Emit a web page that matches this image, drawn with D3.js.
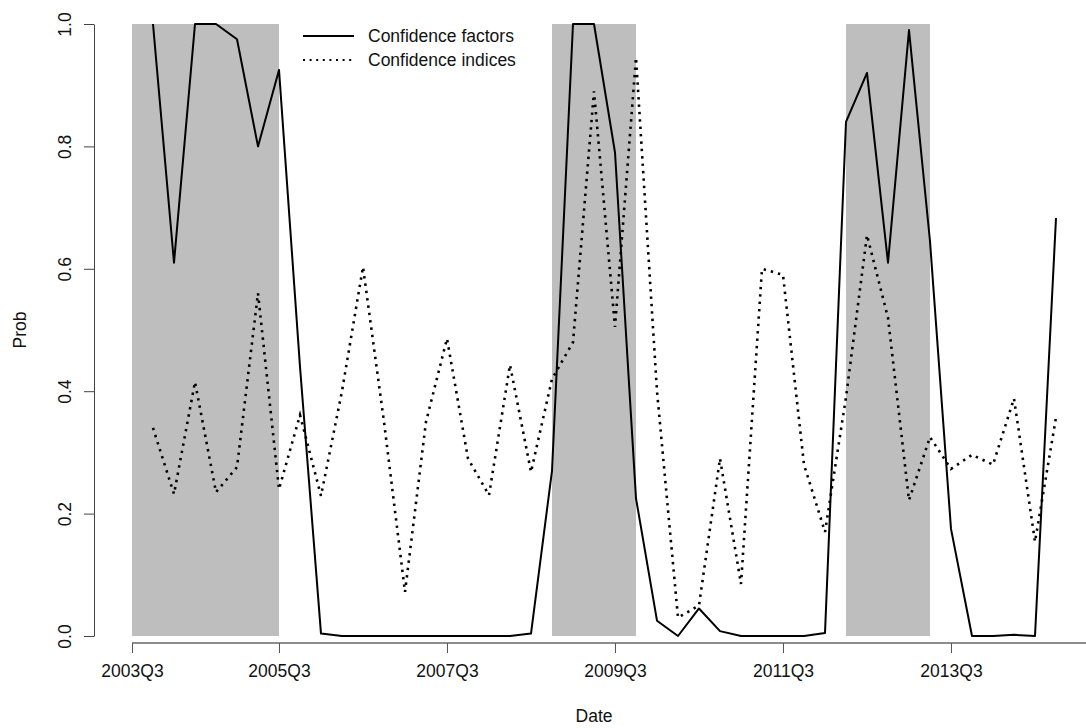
<!DOCTYPE html>
<html>
<head>
<meta charset="utf-8">
<script src="https://cdn.jsdelivr.net/npm/d3@7"></script>
<style>
  body { margin: 0; background: #fff; }
  svg { display: block; font-family: "Liberation Sans", Arial, sans-serif; }
</style>
</head>
<body>
<div class="main"></div>
<script>
//data (quarter index 1..45)
const quarterIndex = d3.range(2, 46);
const confFactors = [
  1.00, 0.61, 1.00, 1.00, 0.975, 0.80, 0.925, 0.44, 0.004, 0,
  0, 0, 0, 0, 0, 0, 0, 0, 0.004, 0.27,
  1.00, 1.00, 0.79, 0.225, 0.025, 0.0, 0.045, 0.008, 0, 0,
  0, 0, 0.005, 0.84, 0.92, 0.61, 0.99, 0.645, 0.175, 0,
  0, 0.002, 0, 0.683
];
const confIndices = [
  0.34, 0.232, 0.415, 0.235, 0.276, 0.56, 0.24, 0.361, 0.229, 0.40,
  0.603, 0.35, 0.072, 0.35, 0.486, 0.29, 0.23, 0.443, 0.268, 0.42,
  0.48, 0.89, 0.505, 0.945, 0.40, 0.03, 0.05, 0.29, 0.085, 0.60,
  0.59, 0.28, 0.17, 0.39, 0.655, 0.52, 0.222, 0.325, 0.273, 0.296,
  0.28, 0.388, 0.154, 0.357
];
// shaded periods, as quarter index ranges
const shadeStart = [1, 21, 35];
const shadeEnd = [8, 25, 39];
const xTickAt = [1, 8, 16, 24, 32, 40];
const xTickLabels = ["2003Q3", "2005Q3", "2007Q3", "2009Q3", "2011Q3", "2013Q3"];
const yTicks = [0, 0.2, 0.4, 0.6, 0.8, 1.0];
const seriesNames = ["Confidence factors", "Confidence indices"];

//scaling
const w = 1086;
const h = 728;
const fs = 17.5;

const xScale = d3.scaleLinear().domain([1, 45]).range([132, 1056]);
const yScale = d3.scaleLinear().domain([0, 1]).range([636, 24]);

const svg = d3.select(".main")
  .append("svg")
  .attr("width", w)
  .attr("height", h);

//shading
svg.selectAll("rect.shade")
  .data(shadeStart)
  .enter()
  .append("rect")
  .attr("class", "shade")
  .attr("x", (d) => xScale(d))
  .attr("y", yScale(1))
  .attr("width", (d, i) => xScale(shadeEnd[i]) - xScale(d))
  .attr("height", yScale(0) - yScale(1))
  .attr("fill", "#bebebe");

//lines
const line = (vals) => d3.line()
  .x((d, i) => xScale(quarterIndex[i]))
  .y((d) => yScale(d))(vals);

svg.append("path")
  .attr("d", line(confFactors))
  .attr("fill", "none")
  .attr("stroke", "#000")
  .attr("stroke-width", 2)
  .attr("stroke-linejoin", "round");

svg.append("path")
  .attr("d", line(confIndices))
  .attr("fill", "none")
  .attr("stroke", "#000")
  .attr("stroke-width", 2.6)
  .attr("stroke-dasharray", "2.4 5");

//x axis
const xAxis = d3.axisBottom(xScale)
  .tickValues(xTickAt)
  .tickFormat((d, i) => xTickLabels[i])
  .tickSize(10)
  .tickPadding(12)
  .tickSizeOuter(0);

const gx = svg.append("g")
  .attr("transform", "translate(0,643)")
  .call(xAxis);
gx.select(".domain").remove();
gx.append("line")
  .attr("x1", xScale(1)).attr("x2", w)
  .attr("stroke", "#666").attr("stroke-width", 1.6);
gx.selectAll(".tick line").attr("stroke", "#555");
gx.selectAll("text")
  .attr("font-size", fs)
  .attr("font-family", "Liberation Sans, Arial, sans-serif")
  .attr("fill", "#111");

//y axis
const yAxis = d3.axisLeft(yScale)
  .tickValues(yTicks)
  .tickFormat(d3.format(".1f"))
  .tickSize(10)
  .tickSizeOuter(0);

const gy = svg.append("g")
  .attr("transform", "translate(94,0)")
  .call(yAxis);
gy.select(".domain").attr("stroke", "#444");
gy.selectAll(".tick line").attr("stroke", "#444");
gy.selectAll("text")
  .attr("font-size", fs)
  .attr("font-family", "Liberation Sans, Arial, sans-serif")
  .attr("fill", "#111")
  .attr("transform", "rotate(-90)")
  .attr("x", 0)
  .attr("y", -29)
  .attr("dy", "0.35em")
  .attr("text-anchor", "middle");

//axis titles
svg.append("text")
  .attr("x", 594)
  .attr("y", 716)
  .attr("dy", "0.35em")
  .attr("text-anchor", "middle")
  .attr("font-size", fs)
  .attr("fill", "#111")
  .text("Date");

svg.append("text")
  .attr("transform", "translate(20,330) rotate(-90)")
  .attr("dy", "0.35em")
  .attr("text-anchor", "middle")
  .attr("font-size", fs)
  .attr("fill", "#111")
  .text("Prob");

//legend
const legend = svg.append("g").attr("transform", "translate(303,36)");
legend.selectAll("line")
  .data(seriesNames)
  .enter()
  .append("line")
  .attr("x1", 0).attr("x2", 51)
  .attr("y1", (d, i) => i * 24).attr("y2", (d, i) => i * 24)
  .attr("stroke", "#000")
  .attr("stroke-width", (d, i) => i ? 2.2 : 2)
  .attr("stroke-dasharray", (d, i) => i ? "2 4.6" : null);
legend.selectAll("text")
  .data(seriesNames)
  .enter()
  .append("text")
  .attr("x", 65)
  .attr("y", (d, i) => i * 24)
  .attr("dy", "0.35em")
  .attr("font-size", fs)
  .attr("fill", "#111")
  .text((d) => d);
</script>
</body>
</html>
